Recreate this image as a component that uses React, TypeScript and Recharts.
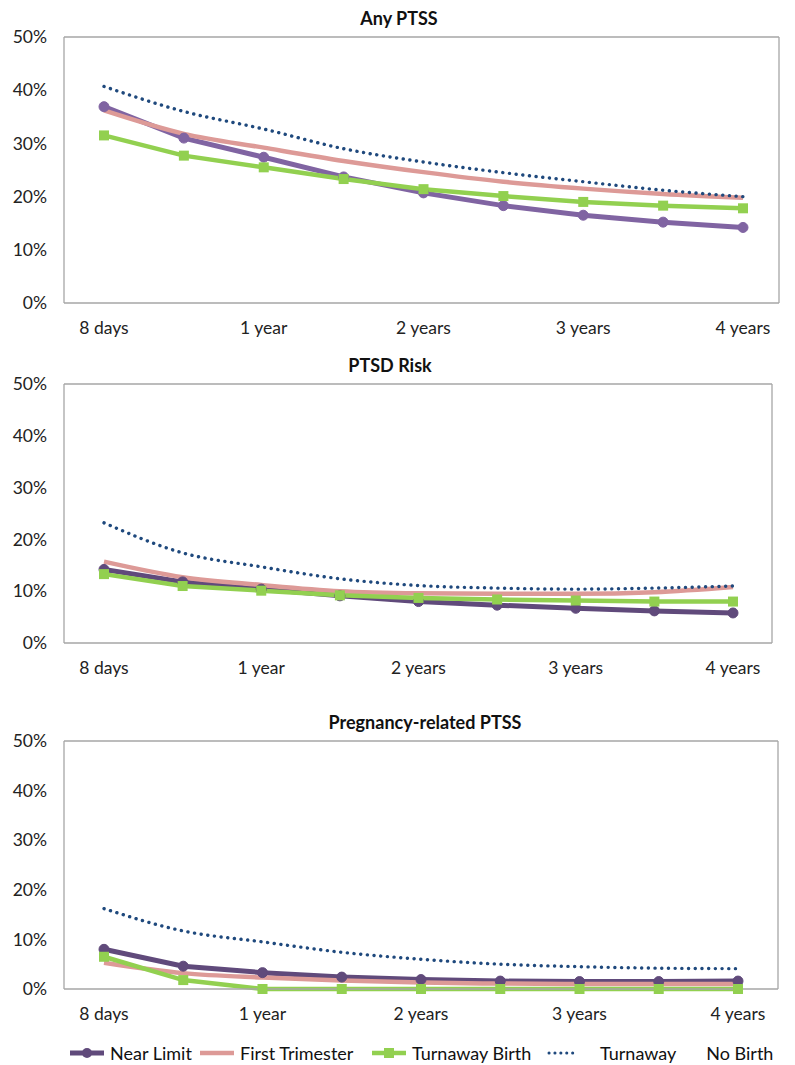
import React from 'react';
import { LineChart, Line, XAxis, YAxis } from 'recharts';

// time points (only every other one gets a label)
const periods = ['8 days', '6 months', '1 year', '18 months', '2 years', '30 months', '3 years', '42 months', '4 years'];
const yTicks = [0, 10, 20, 30, 40, 50];

// Any PTSS (%)
const anyNearLimit = [36.9, 31.0, 27.4, 23.7, 20.7, 18.3, 16.5, 15.2, 14.2];
const anyFirstTri = [36.2, 31.8, 29.2, 26.7, 24.6, 22.8, 21.5, 20.5, 19.8];
const anyBirth = [31.5, 27.7, 25.5, 23.3, 21.4, 20.1, 19.0, 18.3, 17.8];
const anyNoBirth = [40.7, 36.0, 32.7, 29.0, 26.5, 24.5, 22.8, 21.2, 20.0];

// PTSD Risk (%)
const riskNearLimit = [14.2, 11.8, 10.4, 9.1, 8.0, 7.3, 6.7, 6.2, 5.8];
const riskFirstTri = [15.7, 12.7, 11.2, 10.0, 9.6, 9.5, 9.5, 9.8, 10.8];
const riskBirth = [13.3, 11.0, 10.1, 9.2, 8.7, 8.4, 8.2, 8.0, 8.0];
const riskNoBirth = [23.2, 17.4, 14.7, 12.4, 11.1, 10.6, 10.4, 10.6, 11.0];

// Pregnancy-related PTSS (%)
const pregNearLimit = [8.0, 4.6, 3.3, 2.4, 1.9, 1.6, 1.5, 1.5, 1.6];
const pregFirstTri = [5.3, 3.2, 2.3, 1.7, 1.3, 1.1, 1.0, 1.0, 1.0];
const pregBirth = [6.5, 1.8, 0, 0, 0, 0, 0, 0, 0];
const pregNoBirth = [16.2, 11.7, 9.5, 7.4, 6.0, 5.0, 4.5, 4.2, 4.1];

const seriesNames = ['Near Limit', 'First Trimester', 'Turnaway Birth', 'Turnaway  No Birth'];

const PURPLE_LIGHT = '#8064A2';
const PURPLE_DARK = '#604A7B';
const PINK = '#DD9A97';
const GREEN = '#92D050';
const NAVY = '#1F497D';
const BORDER = '#A6A6A6';
const FONT = 'Lato, "Open Sans", sans-serif';

function buildRows(a: number[], b: number[], c: number[], d: number[]) {
  return periods.map((p, i) => ({ period: p, nearLimit: a[i], firstTri: b[i], birth: c[i], noBirth: d[i] }));
}

const Square = (props: any) => {
  const { cx, cy, index } = props;
  if (cx == null || cy == null) return <g key={`sq-${index}`} />;
  return <rect key={`sq-${index}`} x={cx - 5} y={cy - 5} width={10} height={10} fill={GREEN} />;
};

type PanelProps = {
  title: string;
  titleX: number;
  top: number;
  height: number;
  rightGap: number;
  padRight: number;
  rows: any[];
  purple: string;
};

function Panel({ title, titleX, top, height, rightGap, padRight, rows, purple }: PanelProps) {
  const pad = { left: 40, right: padRight };
  return (
    <>
      <div
        style={{
          position: 'absolute',
          top: top + 7,
          left: titleX - 200,
          width: 400,
          textAlign: 'center',
          fontWeight: 700,
          fontSize: 18,
          lineHeight: '22px',
          color: '#111',
        }}
      >
        {title}
      </div>
      <div style={{ position: 'absolute', top, left: 0 }}>
        <LineChart width={795} height={height} data={rows} margin={{ top: 36, right: rightGap - 1, bottom: 0, left: 0 }}>
          <XAxis
            dataKey="period"
            interval={1}
            padding={pad}
            tickSize={0}
            tickMargin={19}
            height={42}
            axisLine={{ stroke: BORDER, strokeWidth: 1.3 }}
            tick={{ fontSize: 17.5, fill: '#222', fontFamily: FONT }}
          />
          {/* top + right axes only draw the frame of the plot area */}
          <XAxis
            xAxisId="top"
            orientation="top"
            dataKey="period"
            padding={pad}
            height={1}
            tick={false}
            tickLine={false}
            axisLine={{ stroke: BORDER, strokeWidth: 1.3 }}
          />
          <YAxis
            domain={[0, 50]}
            ticks={yTicks}
            width={64}
            tickSize={0}
            tickMargin={17}
            axisLine={{ stroke: BORDER, strokeWidth: 1.3 }}
            tick={{ fontSize: 17.5, fill: '#222', fontFamily: FONT }}
            tickFormatter={(v: number) => `${v}%`}
          />
          <YAxis
            yAxisId="right"
            orientation="right"
            domain={[0, 50]}
            ticks={yTicks}
            width={1}
            tick={false}
            tickLine={false}
            axisLine={{ stroke: BORDER, strokeWidth: 1.3 }}
          />
          <Line
            dataKey="nearLimit"
            name={seriesNames[0]}
            stroke={purple}
            strokeWidth={5}
            dot={{ r: 5, fill: purple, stroke: purple, strokeWidth: 1 }}
            isAnimationActive={false}
          />
          <Line
            type="monotone"
            dataKey="firstTri"
            name={seriesNames[1]}
            yAxisId="right"
            stroke={PINK}
            strokeWidth={4.5}
            dot={false}
            isAnimationActive={false}
          />
          <Line
            dataKey="birth"
            name={seriesNames[2]}
            stroke={GREEN}
            strokeWidth={4.5}
            dot={(p: any) => <Square {...p} />}
            isAnimationActive={false}
          />
          <Line
            type="monotone"
            dataKey="noBirth"
            name={seriesNames[3]}
            xAxisId="top"
            stroke={NAVY}
            strokeWidth={3.4}
            strokeDasharray="0.1 6.6"
            strokeLinecap="round"
            dot={false}
            isAnimationActive={false}
          />
        </LineChart>
      </div>
    </>
  );
}

function LegendIcon({ kind }: { kind: number }) {
  return (
    <svg width={34} height={14} style={{ display: 'block' }}>
      {kind === 0 && (
        <>
          <line x1={0} y1={7} x2={34} y2={7} stroke={PURPLE_DARK} strokeWidth={5} />
          <circle cx={17} cy={7} r={5} fill={PURPLE_DARK} />
        </>
      )}
      {kind === 1 && <line x1={0} y1={7} x2={34} y2={7} stroke={PINK} strokeWidth={4.5} />}
      {kind === 2 && (
        <>
          <line x1={0} y1={7} x2={34} y2={7} stroke={GREEN} strokeWidth={4.5} />
          <rect x={12} y={2} width={10} height={10} fill={GREEN} />
        </>
      )}
      {kind === 3 && (
        <line x1={3} y1={7} x2={32} y2={7} stroke={NAVY} strokeWidth={3} strokeDasharray="0.1 5.8" strokeLinecap="round" />
      )}
    </svg>
  );
}

const legendLefts = [70, 200, 372, 546];

export default function App() {
  return (
    <div
      style={{
        position: 'absolute',
        left: 0,
        top: 0,
        width: 795,
        height: 1065,
        background: '#fff',
        fontFamily: FONT,
        overflow: 'hidden',
      }}
    >
      <Panel
        title="Any PTSS"
        titleX={399}
        top={0}
        height={345}
        rightGap={16}
        padRight={36}
        rows={buildRows(anyNearLimit, anyFirstTri, anyBirth, anyNoBirth)}
        purple={PURPLE_LIGHT}
      />
      <Panel
        title="PTSD Risk"
        titleX={390}
        top={347}
        height={338}
        rightGap={23}
        padRight={39}
        rows={buildRows(riskNearLimit, riskFirstTri, riskBirth, riskNoBirth)}
        purple={PURPLE_DARK}
      />
      <Panel
        title="Pregnancy-related PTSS"
        titleX={425}
        top={704}
        height={327}
        rightGap={17}
        padRight={40}
        rows={buildRows(pregNearLimit, pregFirstTri, pregBirth, pregNoBirth)}
        purple={PURPLE_DARK}
      />
      {seriesNames.map((name, i) => {
        const words = name.split('  ');
        return (
          <div
            key={name}
            style={{
              position: 'absolute',
              top: 1042,
              left: legendLefts[i],
              display: 'flex',
              alignItems: 'center',
              gap: i === 3 ? 20 : 6,
              fontSize: 18,
              lineHeight: '22px',
              color: '#111',
              whiteSpace: 'pre',
            }}
          >
            <LegendIcon kind={i} />
            <span>
              {words[0]}
              {words[1] && <span style={{ marginLeft: 30 }}>{words[1]}</span>}
            </span>
          </div>
        );
      })}
    </div>
  );
}
